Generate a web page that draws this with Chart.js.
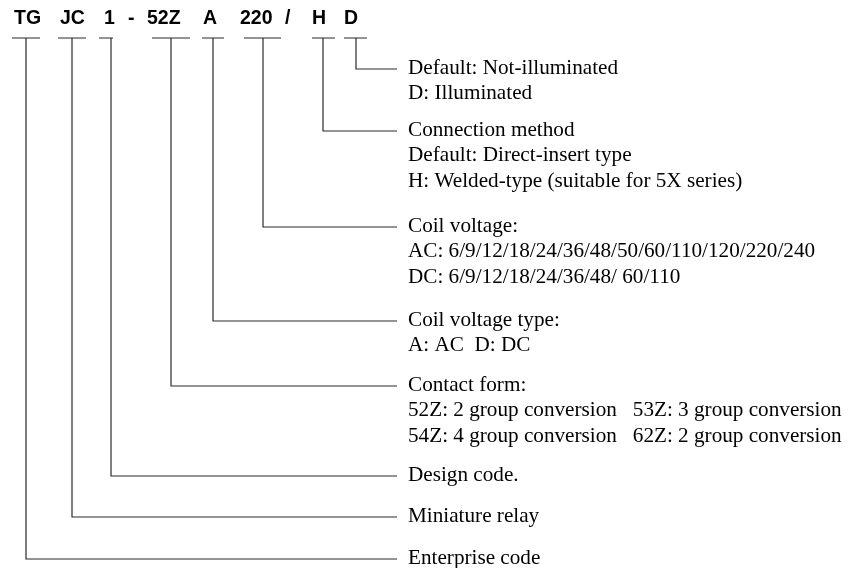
<!DOCTYPE html>
<html>
<head>
<meta charset="utf-8">
<script src="https://cdn.jsdelivr.net/npm/chart.js@4"></script>
<style>
  html, body { margin: 0; padding: 0; background: #fff; }
  #wrap { width: 854px; height: 568px; position: relative; }
</style>
</head>
<body>
<div id="wrap"><canvas id="c" width="854" height="568"></canvas></div>
<script>
// part number segments across the top
const codes = ['TG', 'JC', '1', '-', '52Z', 'A', '220', '/', 'H', 'D'];
const codeX = [14, 60, 104, 128, 147, 203, 240, 285, 312, 344];

// one leader per coded segment (diagram units = px of the 854x568 picture)
const branchCodes = ['TG', 'JC', '1', '52Z', 'A', '220', 'H', 'D'];
const tickFrom = [12, 58, 99, 152, 202, 244, 312, 344];
const tickTo   = [40, 86, 113, 190, 224, 281, 335, 367];
const stemX    = [26, 72, 111, 171, 213, 263, 323, 356];
const elbowY   = [559, 517, 476, 386, 321, 227, 131, 69];
const tickY = 38;
const leaderEnd = 397;
const textX = 408;

const descriptions = [
    ['Enterprise code'],
    ['Miniature relay'],
    ['Design code.'],
    ['Contact form:',
     '52Z: 2 group conversion   53Z: 3 group conversion',
     '54Z: 4 group conversion   62Z: 2 group conversion'],
    ['Coil voltage type:', 'A: AC  D: DC'],
    ['Coil voltage:',
     'AC: 6/9/12/18/24/36/48/50/60/110/120/220/240',
     'DC: 6/9/12/18/24/36/48/ 60/110'],
    ['Connection method',
     'Default: Direct-insert type',
     'H: Welded-type (suitable for 5X series)'],
    ['Default: Not-illuminated', 'D: Illuminated']
];

const datasets = branchCodes.map((c, i) => ({
    label: c,
    data: [
        { x: tickFrom[i], y: tickY },
        { x: tickTo[i], y: tickY },
        { x: stemX[i], y: tickY },
        { x: stemX[i], y: elbowY[i] },
        { x: leaderEnd, y: elbowY[i] }
    ],
    showLine: true,
    borderColor: '#2a2a2a',
    borderWidth: 1.2,
    pointRadius: 0,
    fill: false,
    tension: 0
}));

const textPlugin = {
    id: 'texts',
    afterDatasetsDraw(chart) {
        const { ctx, scales: { x, y } } = chart;
        ctx.save();
        ctx.fillStyle = '#000';
        ctx.textBaseline = 'middle';
        ctx.font = 'bold 19.5px "Liberation Sans", Arial, sans-serif';
        codes.forEach((c, i) => {
            ctx.fillText(c, x.getPixelForValue(codeX[i]), y.getPixelForValue(19));
        });
        ctx.font = '21.2px "Liberation Serif", "Times New Roman", serif';
        descriptions.forEach((lines, i) => {
            lines.forEach((t, j) => {
                ctx.fillText(t, x.getPixelForValue(textX), y.getPixelForValue(elbowY[i] - 1 + j * 25.5));
            });
        });
        ctx.restore();
    }
};

new Chart(document.getElementById('c'), {
    type: 'scatter',
    data: { datasets },
    options: {
        responsive: false,
        animation: false,
        layout: { padding: 0 },
        plugins: { legend: { display: false }, tooltip: { enabled: false } },
        scales: {
            x: { type: 'linear', min: 0, max: 854, display: false },
            y: { type: 'linear', min: 0, max: 568, reverse: true, display: false }
        }
    },
    plugins: [textPlugin]
});
</script>
</body>
</html>
